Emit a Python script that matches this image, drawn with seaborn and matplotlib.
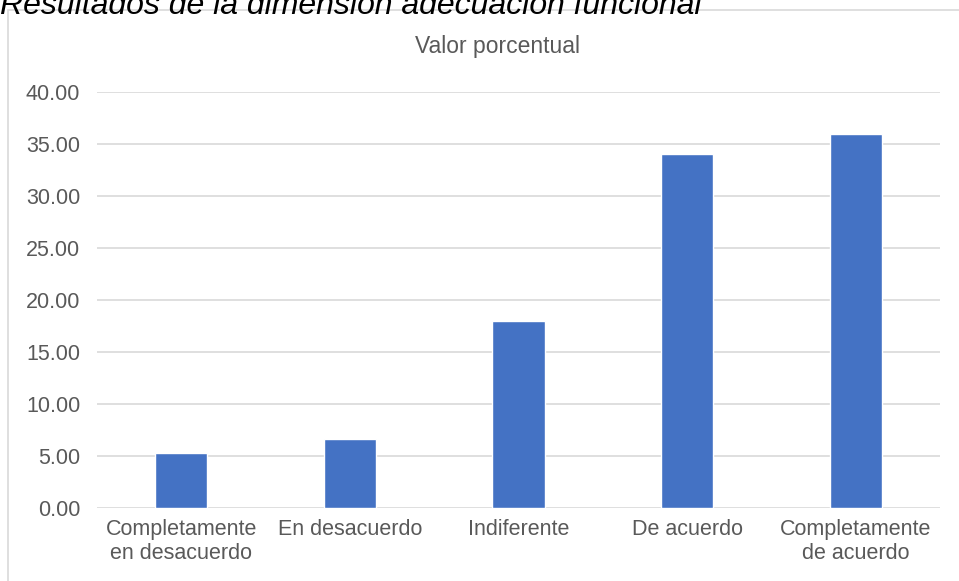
import matplotlib
matplotlib.use("Agg")
import matplotlib.pyplot as plt
import seaborn as sns
from matplotlib.patches import Rectangle

# datos
categorias = ["Completamente\nen desacuerdo", "En desacuerdo", "Indiferente",
              "De acuerdo", "Completamente\nde acuerdo"]
valores = [5.33, 6.67, 18.00, 34.00, 36.00]
yticks = [0, 5, 10, 15, 20, 25, 30, 35, 40]

sns.set_style("white")
plt.rcParams['font.family'] = ['Liberation Sans', 'DejaVu Sans']

fig = plt.figure(figsize=(9.59, 5.81), dpi=100)
ax = fig.add_axes([97/959, 1 - 508/581, 843/959, (508 - 92)/581])

# marco del grafico (cortado por la derecha y abajo)
fig.patches.append(Rectangle((8/959, -0.1), 1.2, 1 - 10/581 + 0.1,
                             transform=fig.transFigure, fill=False,
                             edgecolor="#d9d9d9", linewidth=1.2))

sns.barplot(x=categorias, y=valores, color="#4472C4", saturation=1,
            width=0.31, ax=ax, zorder=3)

ax.set_ylim(0, 40)
ax.set_xlim(-0.5, 4.5)
ax.set_yticks(yticks)
ax.set_yticklabels([f"{v:.2f}" for v in yticks])
ax.yaxis.grid(True, color="#d9d9d9", linewidth=1.2, zorder=0)
ax.set_axisbelow(True)
for s in ax.spines.values():
    s.set_visible(False)
ax.tick_params(axis="both", length=0, labelsize=15.5, colors="#595959")
ax.tick_params(axis="x", pad=8)
ax.tick_params(axis="y", pad=12)
ax.set_xlabel("")
ax.set_ylabel("")

fig.text(497/959, 1 - 47/581, "Valor porcentual", ha="center", va="center",
         fontsize=16.5, color="#595959")

# titulo de la figura, cortado arriba
fig.text(0, 1 - 14/581, "Resultados de la dimensión adecuación funcional",
         ha="left", va="baseline", fontsize=23, style="italic", color="#000000")

fig.savefig("out.png", dpi=100)
